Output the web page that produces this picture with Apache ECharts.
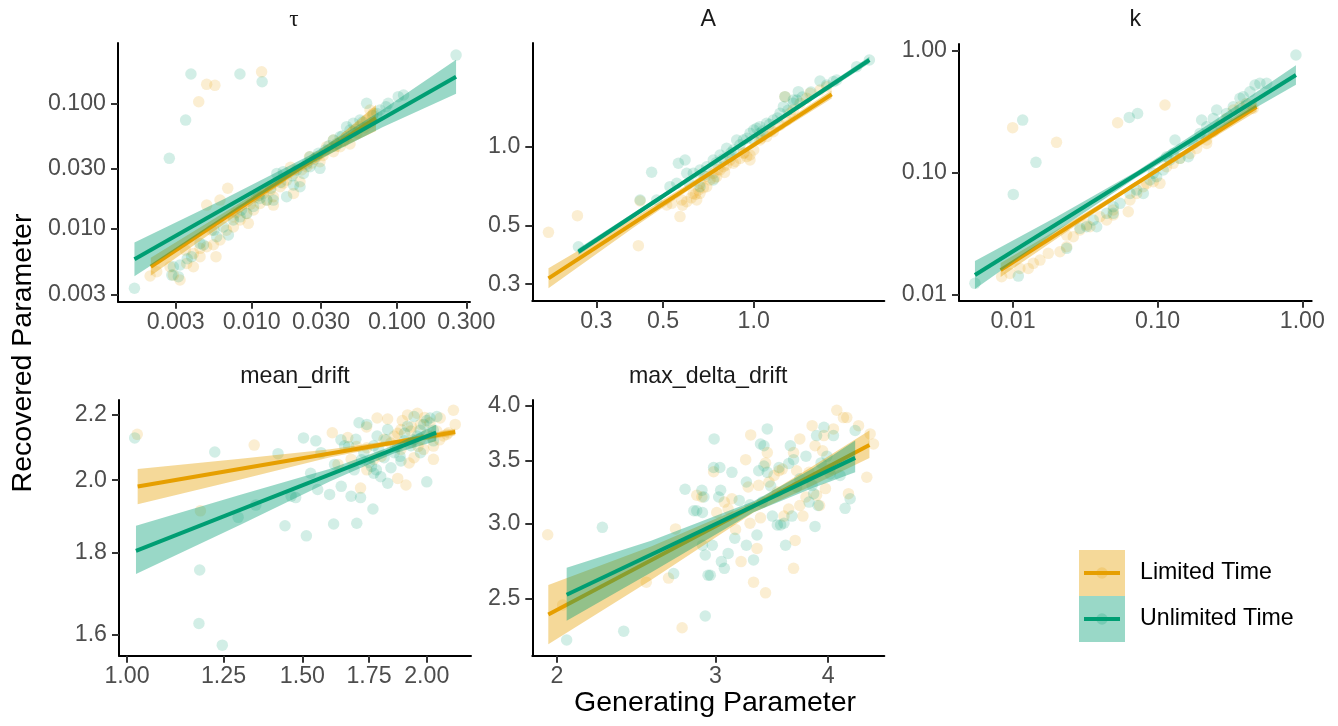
<!DOCTYPE html>
<html><head><meta charset="utf-8">
<script src="https://cdn.jsdelivr.net/npm/echarts@6/dist/echarts.min.js"></script>
<style>html,body{margin:0;padding:0;background:#fff}#c{width:1338px;height:726px}</style>
</head><body><div id="c"></div>
<script>
// ---------------- DATA (generating value, recovered value) ----------------
const groups = ['Limited Time', 'Unlimited Time'];
const panelNames = ['τ', 'A', 'k', 'mean_drift', 'max_delta_drift'];

// tau
const tauLimited = [[0.0020,0.00423],[0.00222,0.00458],[0.00289,0.0043],[0.00321,0.00393],[0.00357,0.00533],[0.00397,0.0064],[0.00441,0.00603],[0.0049,0.00724],[0.00545,0.0075],[0.00568,0.00603],[0.0049,0.0155],[0.00605,0.017],[0.00684,0.0211],[0.00748,0.0125],[0.00832,0.0118],[0.00948,0.0111],[0.0103,0.0142],[0.0114,0.016],[0.0127,0.017],[0.0141,0.0181],[0.0157,0.0217],[0.0174,0.0245],[0.0194,0.0277],[0.0215,0.0238],[0.0239,0.0313],[0.028,0.0376],[0.0328,0.0452],[0.0365,0.051],[0.0406,0.0452],[0.045,0.0543],[0.050,0.0595],[0.0556,0.0652],[0.0618,0.0736],[0.0652,0.0885],[0.0687,0.0832],[0.0365,0.0412],[0.0295,0.0343],[0.0194,0.0192],[0.0141,0.0155],[0.00748,0.0104],[0.00605,0.00818],[0.00441,0.00702],[0.00397,0.00501],[0.00274,0.00501],[0.0475,0.0475],[0.025,0.0376],[0.0185,0.031],[0.012,0.0192],[0.0092,0.0133],[0.0067,0.0098],[0.0108,0.018],[0.0035,0.0068],[0.0053,0.0098],[0.0078,0.0135],[0.0098,0.0158],[0.0135,0.0205],[0.0165,0.0232],[0.022,0.0295],[0.026,0.0335],[0.031,0.0385],[0.038,0.0455],[0.043,0.05],[0.053,0.058],[0.06,0.064],[0.066,0.07],[0.0117,0.178],[0.0049,0.1416],[0.00558,0.139],[0.00432,0.103]];
const tauUnlimited = [[0.00289,0.00501],[0.00321,0.00517],[0.00386,0.00603],[0.00465,0.00746],[0.00574,0.00869],[0.00691,0.00896],[0.00638,0.0104],[0.00832,0.0125],[0.00748,0.0118],[0.0103,0.0151],[0.0127,0.017],[0.0149,0.0277],[0.0165,0.0286],[0.0174,0.0181],[0.0194,0.0224],[0.0215,0.0217],[0.0227,0.0277],[0.0252,0.0313],[0.0295,0.0304],[0.0288,0.040],[0.032,0.0425],[0.0365,0.051],[0.0406,0.0543],[0.045,0.0652],[0.050,0.0693],[0.0556,0.0736],[0.0618,0.10],[0.0764,0.0885],[0.0871,0.10],[0.102,0.113],[0.111,0.1165],[0.0475,0.0614],[0.0252,0.0376],[0.0114,0.0175],[0.00925,0.0133],[0.00441,0.00769],[0.00313,0.00418],[0.00282,0.0043],[0.0726,0.0832],[0.0385,0.048],[0.0204,0.0295],[0.0141,0.017],[0.0036,0.0058],[0.0055,0.0098],[0.0085,0.0142],[0.0112,0.0185],[0.0135,0.021],[0.0158,0.0235],[0.019,0.0265],[0.024,0.033],[0.027,0.036],[0.034,0.046],[0.042,0.055],[0.052,0.062],[0.058,0.071],[0.068,0.08],[0.084,0.094],[0.255,0.242],[0.00382,0.171],[0.0083,0.171],[0.0118,0.1486],[0.00351,0.0736],[0.00271,0.0365],[0.00156,0.00338]];
const tauLimitedFit = [[0.00202,0.00501],[0.0717,0.0764]];
const tauUnlimitedFit = [[0.00156,0.00574],[0.255,0.163]];
const tauLimitedBand = [[0.00202,0.00425,0.00592],[0.00631,0.01079,0.01327],[0.01778,0.02489,0.02793],[0.0398,0.04345,0.0547],[0.0717,0.0603,0.0968]];
const tauUnlimitedBand = [[0.00156,0.00421,0.00783],[0.00631,0.0121,0.0171],[0.0251,0.0328,0.0386],[0.0794,0.0646,0.0891],[0.255,0.1194,0.2223]];

// A
const aLimited = [[0.208,0.473],[0.2596,0.5474],[0.4138,0.4208],[0.4193,0.6226],[0.514,0.601],[0.534,0.610],[0.569,0.543],[0.5765,0.628],[0.599,0.619],[0.630,0.666],[0.6465,0.628],[0.655,0.686],[0.663,0.727],[0.689,0.771],[0.698,0.706],[0.716,0.749],[0.734,0.794],[0.753,0.771],[0.773,0.817],[0.793,0.841],[0.813,0.854],[0.834,0.892],[0.856,0.867],[0.901,0.905],[0.948,0.919],[0.972,0.932],[1.0,0.974],[1.049,1.063],[1.104,1.095],[1.162,1.144],[1.223,1.213],[1.287,1.267],[1.320,1.344],[1.354,1.384],[1.426,1.466],[1.50,1.532],[1.538,1.601],[1.661,1.648],[1.748,1.697],[1.27,1.555],[0.663,0.666],[0.924,0.946],[0.972,0.892],[0.58,0.60],[0.62,0.64],[0.68,0.70],[0.74,0.76],[0.80,0.80],[0.87,0.88],[0.93,0.95],[1.06,1.08],[1.14,1.15],[0.64,0.66],[0.76,0.82]];
const aUnlimited = [[0.2616,0.417],[0.4193,0.628],[0.458,0.801],[0.562,0.867],[0.5915,0.892],[0.599,0.794],[0.476,0.628],[0.527,0.706],[0.555,0.727],[0.630,0.794],[0.663,0.817],[0.698,0.841],[0.734,0.892],[0.773,0.932],[0.813,0.988],[0.856,0.974],[0.878,1.063],[0.924,1.063],[0.972,1.127],[1.0,1.161],[1.023,1.178],[1.049,1.195],[1.104,1.231],[1.162,1.267],[1.223,1.344],[1.255,1.424],[1.27,1.555],[1.354,1.51],[1.407,1.624],[1.661,1.784],[1.748,1.722],[1.84,1.774],[1.887,1.80],[2.198,2.023],[2.423,2.145],[0.734,0.749],[0.663,0.706],[0.834,0.919],[1.0,1.063],[1.354,1.466],[1.39,1.51],[1.049,1.127],[0.61,0.73],[0.68,0.78],[0.75,0.87],[0.79,0.90],[0.84,0.95],[0.90,1.02],[0.95,1.08],[1.07,1.15],[1.13,1.22],[1.20,1.29],[1.30,1.38],[1.45,1.55],[1.55,1.62]];
const aLimitedFit = [[0.208,0.316],[1.816,1.587]];
const aUnlimitedFit = [[0.2616,0.399],[2.423,2.145]];
const aLimitedBand = [[0.208,0.2897,0.345],[0.398,0.492,0.535],[0.794,0.842,0.874],[1.816,1.530,1.646]];
const aUnlimitedBand = [[0.2616,0.3884,0.4106],[0.794,0.9112,0.9367],[2.423,2.086,2.205]];

// k
const kLimited = [[0.00995,0.234],[0.02,0.1773],[0.0529,0.257],[0.1124,0.359],[0.00835,0.01404],[0.00953,0.01496],[0.01117,0.01644],[0.01276,0.01644],[0.01383,0.01807],[0.01538,0.01923],[0.01755,0.02183],[0.02113,0.02252],[0.0235,0.02473],[0.02612,0.02988],[0.02904,0.0339],[0.03404,0.03608],[0.0399,0.04358],[0.04441,0.04093],[0.04936,0.04498],[0.06266,0.04789],[0.06442,0.0597],[0.07161,0.0677],[0.08395,0.0818],[0.0933,0.0843],[0.1038,0.0818],[0.1153,0.112],[0.1282,0.1193],[0.1426,0.1311],[0.1673,0.144],[0.186,0.1583],[0.2183,0.1853],[0.2427,0.2168],[0.2698,0.246],[0.300,0.2787],[0.3334,0.3265],[0.3707,0.3475],[0.412,0.370],[0.458,0.3367],[0.03228,0.03724],[0.04936,0.04943],[0.0796,0.0767],[0.2183,0.1739],[0.0235,0.0308]];
const kUnlimited = [[0.01167,0.270],[0.01442,0.1216],[0.01005,0.0664],[0.0637,0.284],[0.0727,0.306],[0.904,0.922],[0.00546,0.0124],[0.01089,0.01422],[0.0235,0.02399],[0.02904,0.035],[0.03228,0.03608],[0.0359,0.04093],[0.04441,0.04645],[0.04936,0.0527],[0.055,0.0561],[0.06442,0.0677],[0.07161,0.0721],[0.0796,0.0677],[0.0885,0.0871],[0.0984,0.0927],[0.1094,0.1052],[0.1153,0.1353],[0.1282,0.144],[0.1318,0.1853],[0.1426,0.1311],[0.163,0.1353],[0.1764,0.1739],[0.1963,0.210],[0.2014,0.2705],[0.2183,0.2383],[0.2427,0.2787],[0.2559,0.3265],[0.300,0.3064],[0.3334,0.3475],[0.3707,0.4068],[0.3909,0.4198],[0.4345,0.4613],[0.471,0.5232],[0.5094,0.540],[0.5667,0.540],[0.0933,0.0988],[0.1216,0.127],[0.04936,0.04645],[0.0379,0.03608]];
const kLimitedFit = [[0.00822,0.01592],[0.483,0.3475]];
const kUnlimitedFit = [[0.00546,0.01449],[0.9036,0.6318]];
const kLimitedBand = [[0.00822,0.01396,0.01816],[0.0251,0.0346,0.0397],[0.0708,0.0783,0.0843],[0.1995,0.1679,0.1884],[0.483,0.317,0.381]];
const kUnlimitedBand = [[0.00546,0.01112,0.01888],[0.01995,0.0329,0.0434],[0.0708,0.0909,0.102],[0.2512,0.2213,0.2723],[0.9036,0.5253,0.7593]];

// mean_drift
const meanLimited = [[1.024,2.137],[1.185,1.913],[1.342,2.104],[1.6075,2.142],[1.629,2.046],[1.666,2.127],[1.716,1.977],[1.741,2.096],[1.783,2.188],[1.827,2.185],[1.855,2.132],[1.870,2.005],[1.884,2.152],[1.906,1.986],[1.913,2.198],[1.928,2.147],[1.942,2.066],[1.957,2.203],[1.971,2.122],[1.986,2.091],[2.0,2.137],[2.015,2.173],[2.031,2.061],[2.047,2.147],[2.063,2.188],[2.079,2.132],[2.095,2.137],[2.103,2.142],[2.127,2.213],[2.136,2.168],[1.769,2.061],[1.812,2.122],[1.884,2.091],[1.971,2.168],[1.679,2.061],[1.741,2.030],[1.928,2.112],[2.031,2.101],[1.70,2.10],[1.74,2.16],[1.80,2.07],[1.84,2.11],[1.89,2.18],[1.93,2.16],[1.96,2.10],[1.99,2.19],[2.02,2.13],[2.06,2.12],[1.92,2.05],[1.87,2.14]];
const meanUnlimited = [[1.018,2.126],[1.183,1.756],[1.181,1.625],[1.2465,1.575],[1.225,2.083],[1.293,1.895],[1.347,1.929],[1.418,2.078],[1.441,1.872],[1.4615,1.954],[1.477,1.950],[1.504,2.126],[1.514,1.845],[1.529,2.020],[1.5475,2.117],[1.554,1.973],[1.566,2.081],[1.5975,1.959],[1.6125,1.877],[1.616,2.046],[1.641,1.982],[1.679,1.954],[1.691,2.030],[1.701,1.879],[1.6975,2.122],[1.71,2.173],[1.716,1.950],[1.741,2.168],[1.751,2.051],[1.766,1.918],[1.769,2.020],[1.783,2.132],[1.798,2.010],[1.827,2.152],[1.827,1.991],[1.841,2.036],[1.855,2.081],[1.870,2.102],[1.884,2.056],[1.899,2.117],[1.928,2.102],[1.942,2.193],[1.957,2.132],[1.971,2.081],[1.986,2.168],[2.0,1.995],[2.015,2.188],[2.031,2.117],[2.047,2.193],[1.654,2.102],[1.729,2.081],[1.812,2.066],[1.913,2.162],[1.769,2.102],[1.64,2.12],[1.67,2.10],[1.72,2.06],[1.76,2.04],[1.79,2.09],[1.82,2.12],[1.86,2.10],[1.90,2.14],[1.94,2.12],[1.97,2.15],[2.0,2.18],[2.03,2.15],[1.78,2.03],[1.88,2.07]];
const meanLimitedFit = [[1.025,1.9817],[2.136,2.144]];
const meanUnlimitedFit = [[1.021,1.8055],[2.044,2.142]];
const meanLimitedBand = [[1.025,1.9315,2.0325],[1.3,2.0017,2.0625],[1.6,2.067,2.091],[1.85,2.104,2.119],[2.136,2.134,2.154]];
const meanUnlimitedBand = [[1.021,1.746,1.872],[1.3,1.875,1.958],[1.6,1.9968,2.033],[1.85,2.0775,2.102],[2.044,2.1167,2.1675]];

// max_delta_drift
const maxLimited = [[1.953,2.922],[2.029,2.462],[2.513,2.603],[2.660,2.629],[2.708,2.964],[2.754,2.329],[2.859,3.217],[2.897,3.204],[2.985,3.407],[3.009,3.085],[3.068,3.164],[3.098,3.111],[3.128,3.19],[3.157,2.960],[3.202,2.737],[3.240,3.509],[3.261,3.283],[3.282,3.727],[3.276,3.005],[3.306,2.603],[3.335,2.826],[3.350,3.296],[3.365,3.045],[3.409,2.536],[3.409,3.481],[3.424,3.570],[3.439,3.323],[3.484,3.376],[3.528,3.415],[3.558,3.429],[3.573,3.058],[3.662,3.570],[3.677,2.882],[3.662,2.692],[3.691,3.415],[3.721,3.138],[3.751,3.058],[3.780,3.204],[3.840,3.812],[3.869,3.630],[3.884,3.217],[3.914,3.138],[3.944,3.585],[3.958,3.721],[3.973,3.270],[4.021,3.429],[4.055,3.782],[4.09,3.958],[4.16,3.888],[4.196,3.888],[4.214,3.230],[4.324,3.812],[4.416,3.362],[4.454,3.736],[4.493,3.645],[3.721,3.691],[3.810,3.402],[3.513,3.243],[3.617,3.111]];
const maxUnlimited = [[2.050,2.261],[2.246,2.975],[2.372,2.310],[2.922,2.397],[2.695,2.658],[2.775,3.265],[2.838,3.098],[2.859,3.098],[2.897,3.257],[2.912,3.204],[2.943,2.647],[2.960,2.647],[2.901,2.848],[2.922,2.781],[2.975,2.848],[2.989,3.691],[2.985,3.442],[3.033,3.442],[3.024,3.204],[3.039,3.257],[3.068,2.692],[3.045,2.737],[3.098,2.792],[3.128,3.402],[3.151,2.897],[3.187,3.177],[3.246,3.323],[3.276,3.143],[3.306,2.748],[3.335,2.920],[3.350,3.415],[3.365,3.645],[3.380,3.164],[3.395,3.630],[3.424,3.782],[3.424,3.402],[3.454,3.291],[3.469,3.058],[3.513,2.993],[3.528,3.442],[3.543,2.993],[3.588,2.848],[3.573,3.005],[3.617,3.476],[3.632,3.630],[3.647,3.058],[3.662,3.509],[3.691,3.283],[3.721,3.349],[3.780,3.539],[3.810,3.164],[3.840,3.296],[3.855,3.230],[3.869,2.982],[3.884,3.721],[3.899,3.138],[3.929,3.481],[3.958,3.797],[3.988,3.539],[4.021,3.389],[4.055,3.721],[4.125,3.376],[4.178,3.116],[4.232,3.19],[4.287,3.767],[3.395,3.455],[3.246,2.848],[2.901,3.085]];
const maxLimitedFit = [[1.956,2.406],[4.446,3.636]];
const maxUnlimitedFit = [[2.05,2.5246],[4.287,3.524]];
const maxLimitedBand = [[1.956,2.238,2.585],[2.544,2.617,2.840],[3.306,3.0855,3.16],[3.84,3.293,3.4516],[4.446,3.524,3.767]];
const maxUnlimitedBand = [[2.05,2.370,2.696],[2.544,2.6645,2.879],[3.306,3.086,3.171],[3.84,3.2735,3.432],[4.287,3.402,3.676]];

// tick values and labels
const tauXTicks = [0.003,0.01,0.03,0.1,0.3], tauXLabels = ['0.003','0.010','0.030','0.100','0.300'];
const tauYTicks = [0.003,0.01,0.03,0.1], tauYLabels = ['0.003','0.010','0.030','0.100'];
const aTicks = [0.3,0.5,1.0], aLabels = ['0.3','0.5','1.0'];
const kTicks = [0.01,0.1,1], kLabels = ['0.01','0.10','1.00'];
const meanXTicks = [1,1.25,1.5,1.75,2], meanXLabels = ['1.00','1.25','1.50','1.75','2.00'];
const meanYTicks = [1.6,1.8,2.0,2.2], meanYLabels = ['1.6','1.8','2.0','2.2'];
const maxXTicks = [2,3,4], maxXLabels = ['2','3','4'];
const maxYTicks = [2.5,3,3.5,4], maxYLabels = ['2.5','3.0','3.5','4.0'];

// ---------------- LAYOUT / STYLE ----------------
const L = v => Math.log10(v);
const COL = ['#E69F00', '#009E73'];
const PT = ['rgba(230,159,0,0.22)', 'rgba(0,158,115,0.22)'];
const BAND = ['rgba(230,159,0,0.4)', 'rgba(0,158,115,0.4)'];
const FONT = '"Liberation Sans", Arial, Helvetica, sans-serif';

const panels = [
  {grid:{left:118, top:43, width:352, height:258.7}, xr:[0.001202,0.318], yr:[0.002642,0.302],
   xt:tauXTicks, xl:tauXLabels, yt:tauYTicks, yl:tauYLabels,
   pts:[tauLimited,tauUnlimited], fit:[tauLimitedFit,tauUnlimitedFit], band:[tauLimitedBand,tauUnlimitedBand]},
  {grid:{left:532.3, top:43, width:352, height:258}, xr:[0.1838,2.716], yr:[0.2590,2.489],
   xt:aTicks, xl:aLabels, yt:aTicks, yl:aLabels,
   pts:[aLimited,aUnlimited], fit:[aLimitedFit,aUnlimitedFit], band:[aLimitedBand,aUnlimitedBand]},
  {grid:{left:959, top:44, width:352.7, height:256.7}, xr:[0.004236,1.1614], yr:[0.008933,1.135],
   xt:kTicks, xl:kLabels, yt:kTicks, yl:kLabels,
   pts:[kLimited,kUnlimited], fit:[kLimitedFit,kUnlimitedFit], band:[kLimitedBand,kUnlimitedBand]},
  {grid:{left:119, top:400, width:352, height:255.7}, xr:[0.9817,2.2153], yr:[1.5511,2.2459],
   xt:meanXTicks, xl:meanXLabels, yt:meanYTicks, yl:meanYLabels,
   pts:[meanLimited,meanUnlimited], fit:[meanLimitedFit,meanUnlimitedFit], band:[meanLimitedBand,meanUnlimitedBand]},
  {grid:{left:532.3, top:400, width:352, height:255.7}, xr:[1.8776,4.6184], yr:[2.1758,4.0581],
   xt:maxXTicks, xl:maxXLabels, yt:maxYTicks, yl:maxYLabels,
   pts:[maxLimited,maxUnlimited], fit:[maxLimitedFit,maxUnlimitedFit], band:[maxLimitedBand,maxUnlimitedBand]}
];

function labelFn(ticks, labels) {
  return function (v) {
    for (let j = 0; j < ticks.length; j++) if (Math.abs(L(ticks[j]) - v) < 1e-6) return labels[j];
    return '';
  };
}
function axis(i, r, ticks, labels, isX) {
  const cv = ticks.map(L);
  return {
    type: 'value', gridIndex: i, min: L(r[0]), max: L(r[1]),
    axisLine: {show: true, onZero: false, lineStyle: {color: '#000', width: 2}},
    axisTick: {show: true, customValues: cv, length: 7, lineStyle: {color: '#333', width: 2}},
    axisLabel: {show: true, customValues: cv, formatter: labelFn(ticks, labels),
      margin: isX ? 9 : 12, fontSize: 23.2, fontFamily: FONT, color: '#4D4D4D'},
    splitLine: {show: false}
  };
}

const grids = [], xAxes = [], yAxes = [], series = [];
panels.forEach((p, i) => {
  grids.push(Object.assign({containLabel: false}, p.grid));
  xAxes.push(axis(i, p.xr, p.xt, p.xl, true));
  yAxes.push(axis(i, p.yr, p.yt, p.yl, false));
  [0, 1].forEach(g => {
    series.push({type: 'scatter', name: groups[g], xAxisIndex: i, yAxisIndex: i, silent: true, z: 2,
      symbol: 'circle', symbolSize: 11.5, itemStyle: {color: PT[g]},
      data: p.pts[g].map(d => [L(d[0]), L(d[1])])});
  });
  [0, 1].forEach(g => {
    const band = p.band[g];
    series.push({type: 'custom', xAxisIndex: i, yAxisIndex: i, silent: true, z: 3 + g * 2,
      data: [[L(band[0][0]), L(band[0][1])]],
      renderItem: function (params, api) {
        const up = band.map(b => api.coord([L(b[0]), L(b[2])]));
        const lo = band.slice().reverse().map(b => api.coord([L(b[0]), L(b[1])]));
        return {type: 'polygon', shape: {points: up.concat(lo)}, style: {fill: BAND[g]}};
      }});
    series.push({type: 'line', xAxisIndex: i, yAxisIndex: i, silent: true, z: 4 + g * 2,
      symbol: 'none', showSymbol: false, lineStyle: {color: COL[g], width: 4},
      data: p.fit[g].map(d => [L(d[0]), L(d[1])])});
  });
});

function txt(text, x, y, size, color, extra) {
  return Object.assign({type: 'text', x: x, y: y, silent: true, z: 100,
    style: {text: text, font: size + 'px ' + FONT, fill: color, textAlign: 'center', textVerticalAlign: 'middle',
      align: 'center', verticalAlign: 'middle'}}, extra || {});
}
const centers = panels.map(p => p.grid.left + p.grid.width / 2);
const graphics = [
  txt(panelNames[0], centers[0], 20, 23.2, '#1A1A1A', {style: {text: panelNames[0], font: '23.2px "Liberation Serif", serif', fill: '#1A1A1A', textAlign: 'center', textVerticalAlign: 'middle', align: 'center', verticalAlign: 'middle'}}),
  txt(panelNames[1], centers[1], 20, 23.2, '#1A1A1A'),
  txt(panelNames[2], centers[2], 20, 23.2, '#1A1A1A'),
  txt(panelNames[3], centers[3], 377, 23.2, '#1A1A1A'),
  txt(panelNames[4], centers[4], 377, 23.2, '#1A1A1A'),
  txt('Generating Parameter', 715, 703, 28.5, '#000'),
  txt('Recovered Parameter', 23, 353, 28.5, '#000', {rotation: Math.PI / 2})
];
// legend keys
[0, 1].forEach(g => {
  const top = 550 + g * 46, cy = top + 23;
  graphics.push({type: 'rect', silent: true, z: 100, shape: {x: 1079, y: top, width: 46, height: 46}, style: {fill: BAND[g]}});
  graphics.push({type: 'circle', silent: true, z: 101, shape: {cx: 1102, cy: cy, r: 5.75}, style: {fill: PT[g]}});
  graphics.push({type: 'line', silent: true, z: 102, shape: {x1: 1084, y1: cy, x2: 1120, y2: cy}, style: {stroke: COL[g], lineWidth: 4}});
  graphics.push({type: 'text', silent: true, z: 102, x: 1140, y: cy,
    style: {text: groups[g], font: '23.2px ' + FONT, fill: '#000', textAlign: 'left', textVerticalAlign: 'middle', align: 'left', verticalAlign: 'middle'}});
});

const chart = echarts.init(document.getElementById('c'), null, {renderer: 'canvas'});
chart.setOption({
  animation: false, backgroundColor: '#fff',
  grid: grids, xAxis: xAxes, yAxis: yAxes, series: series, graphic: graphics
});
</script></body></html>
